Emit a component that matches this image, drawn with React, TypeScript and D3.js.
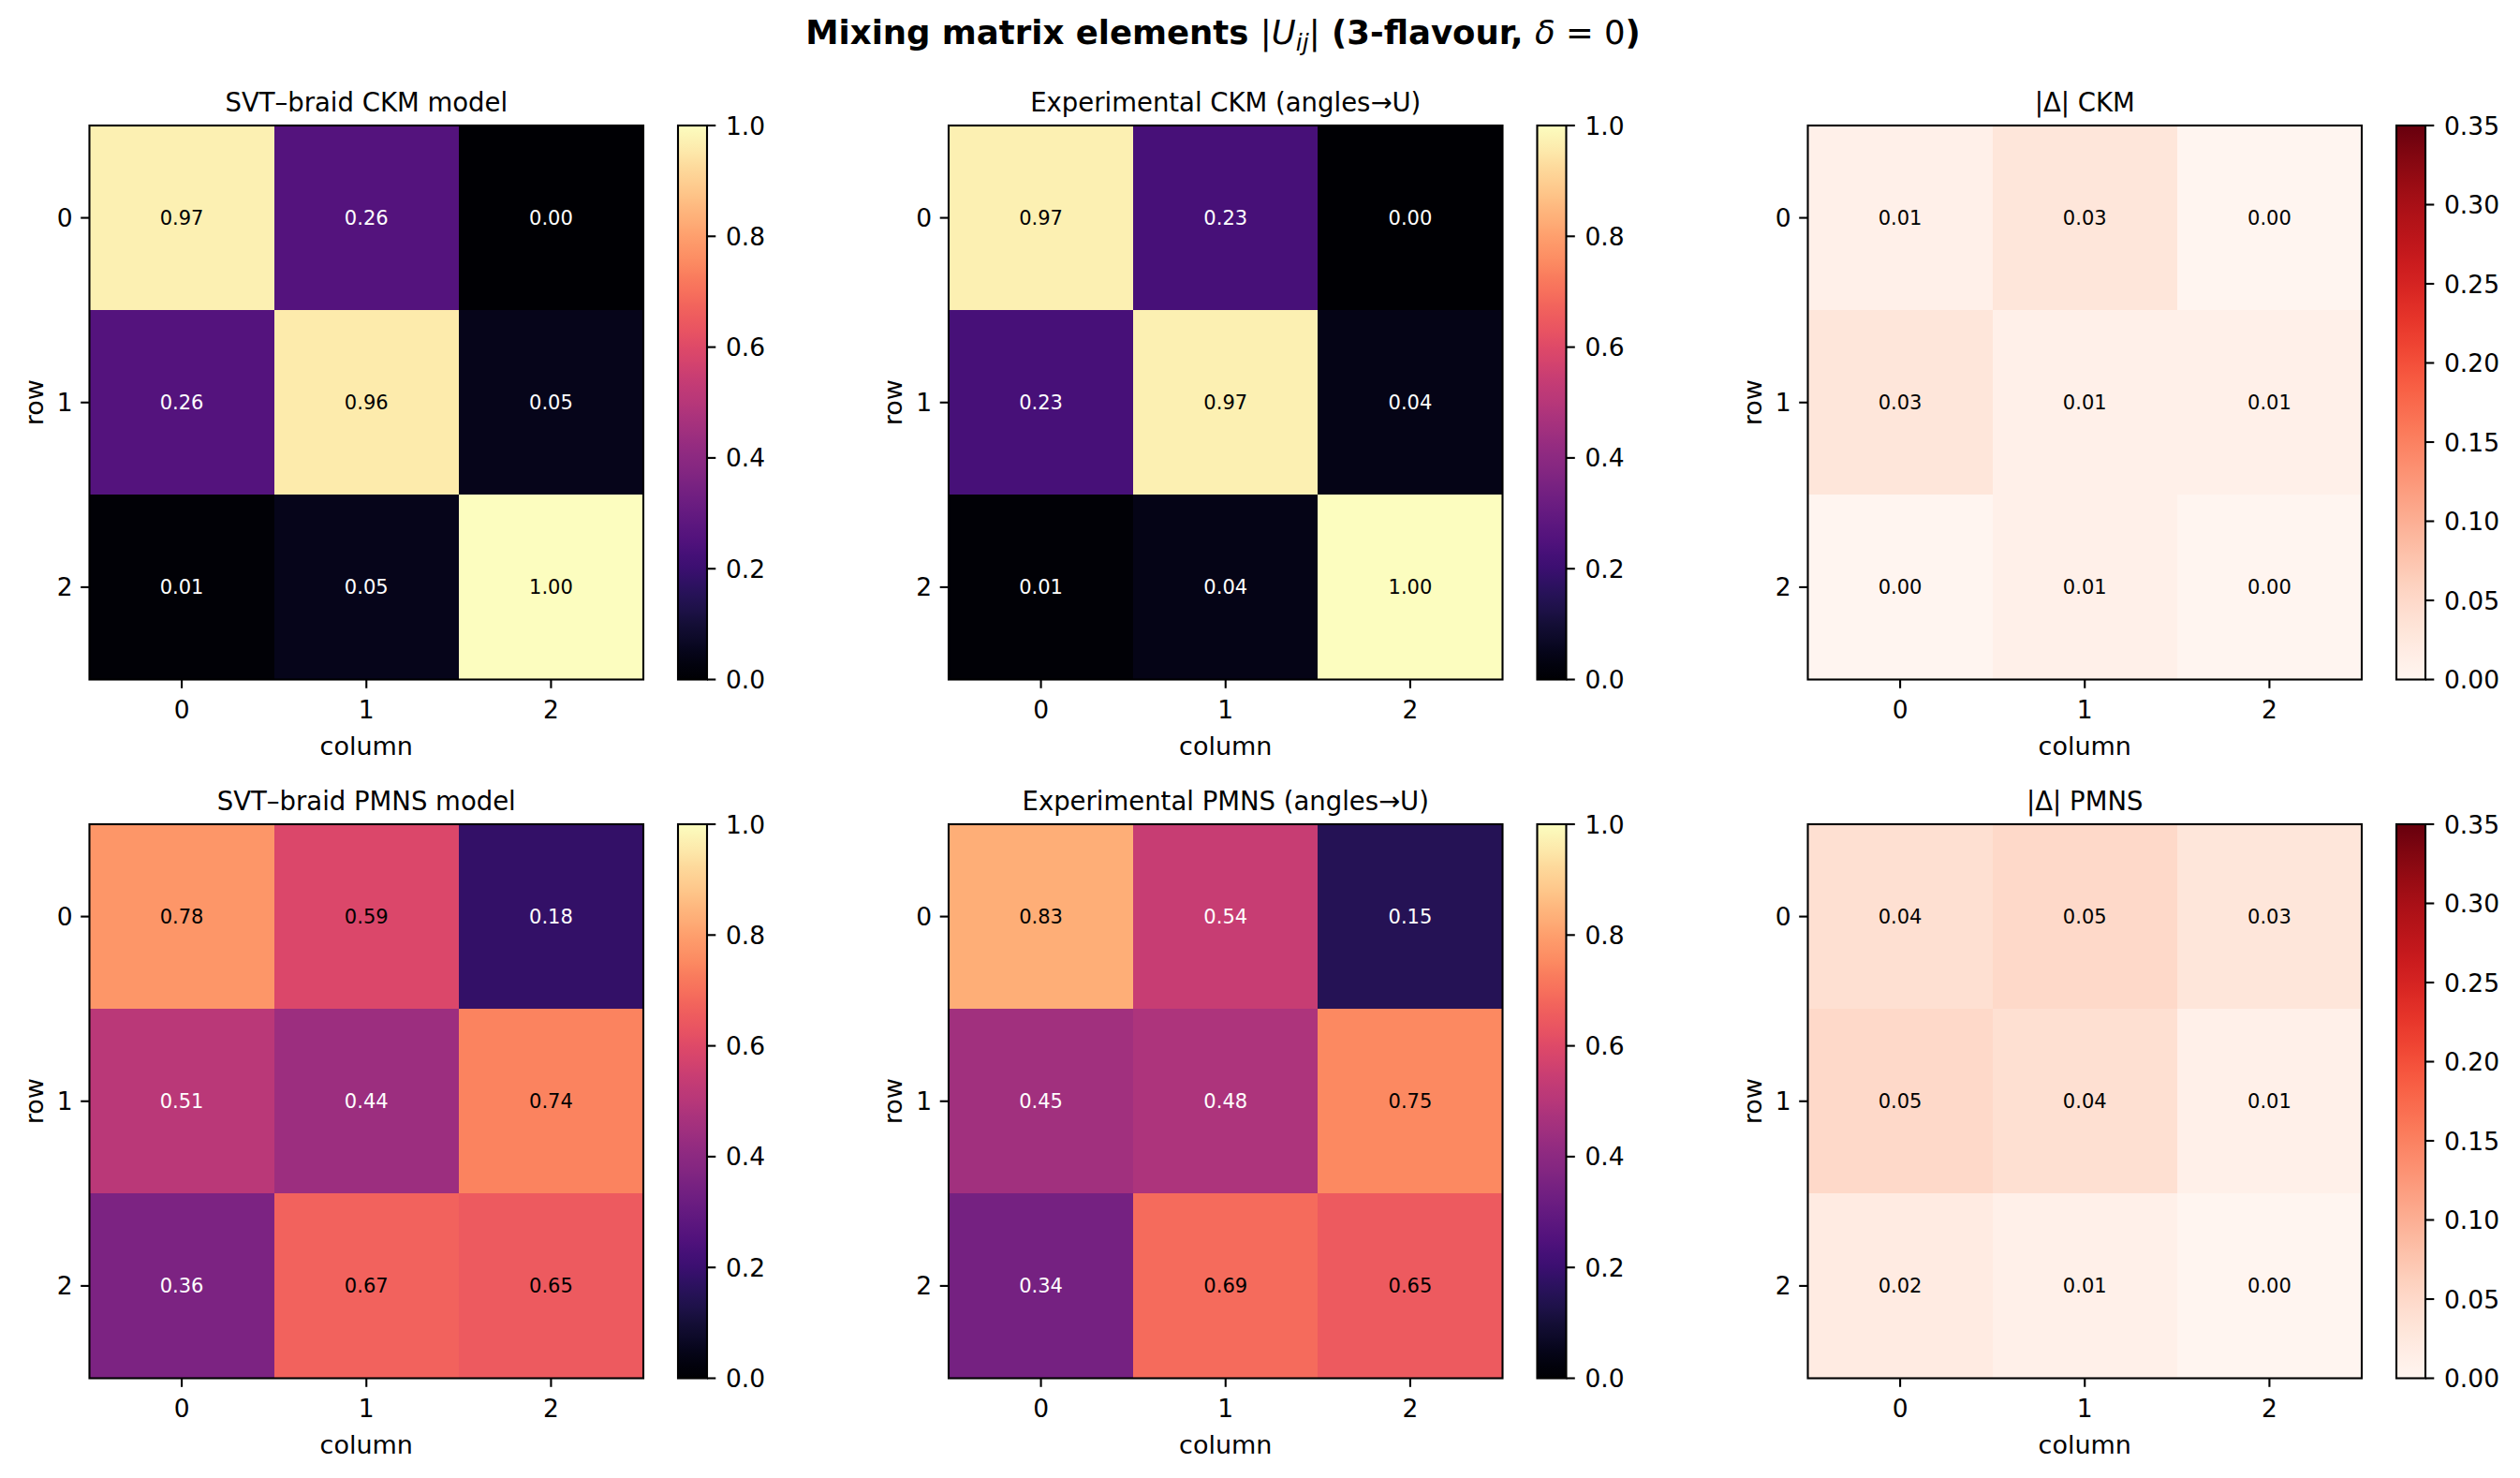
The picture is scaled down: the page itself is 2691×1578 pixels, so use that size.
import * as d3 from "d3";

// matrix values as annotated in the figure
const ckmModel = [
  [0.97, 0.26, 0.0],
  [0.26, 0.96, 0.05],
  [0.01, 0.05, 1.0],
];
const ckmExp = [
  [0.97, 0.23, 0.0],
  [0.23, 0.97, 0.04],
  [0.01, 0.04, 1.0],
];
const ckmDelta = [
  [0.01, 0.03, 0.0],
  [0.03, 0.01, 0.01],
  [0.0, 0.01, 0.0],
];
const pmnsModel = [
  [0.78, 0.59, 0.18],
  [0.51, 0.44, 0.74],
  [0.36, 0.67, 0.65],
];
const pmnsExp = [
  [0.83, 0.54, 0.15],
  [0.45, 0.48, 0.75],
  [0.34, 0.69, 0.65],
];
const pmnsDelta = [
  [0.04, 0.05, 0.03],
  [0.05, 0.04, 0.01],
  [0.02, 0.01, 0.0],
];

const indices = [0, 1, 2];
const magmaTicks = [0, 0.2, 0.4, 0.6, 0.8, 1.0];
const redsTicks = [0, 0.05, 0.1, 0.15, 0.2, 0.25, 0.3, 0.35];

const W = 2691;
const H = 1578;
const FONT = "DejaVu Sans, Liberation Sans, sans-serif";

const colLefts = [95.5, 1013, 1930.5];
const cbarLefts = [724, 1641.5, 2559];
const rowTops = [134, 880];
const size = 591.5;
const cbarW = 31;

type Panel = {
  title: string;
  data: number[][];
  kind: "magma" | "reds";
};

const panels: Panel[][] = [
  [
    { title: "SVT–braid CKM model", data: ckmModel, kind: "magma" },
    { title: "Experimental CKM (angles→U)", data: ckmExp, kind: "magma" },
    { title: "|Δ| CKM", data: ckmDelta, kind: "reds" },
  ],
  [
    { title: "SVT–braid PMNS model", data: pmnsModel, kind: "magma" },
    { title: "Experimental PMNS (angles→U)", data: pmnsExp, kind: "magma" },
    { title: "|Δ| PMNS", data: pmnsDelta, kind: "reds" },
  ],
];

function HeatPanel({
  panel,
  left,
  top,
  cbarLeft,
  id,
}: {
  panel: Panel;
  left: number;
  top: number;
  cbarLeft: number;
  id: string;
}) {
  const x = d3.scaleLinear().domain([-0.5, 2.5]).range([left, left + size]);
  const y = d3.scaleLinear().domain([-0.5, 2.5]).range([top, top + size]);

  const isMagma = panel.kind === "magma";
  const vmax = isMagma ? 1 : 0.35;
  const color = d3
    .scaleSequential(isMagma ? d3.interpolateMagma : d3.interpolateReds)
    .domain([0, vmax]);
  const ticks = isMagma ? magmaTicks : redsTicks;
  const fmt = isMagma ? d3.format(".1f") : d3.format(".2f");
  const cbarY = d3.scaleLinear().domain([0, vmax]).range([top + size, top]);
  const stops = d3.range(0, 1.0001, 1 / 40);

  return (
    <g>
      <defs>
        <linearGradient id={id} x1="0" y1="1" x2="0" y2="0">
          {stops.map((s) => (
            <stop key={s} offset={s} stopColor={color(s * vmax)} />
          ))}
        </linearGradient>
      </defs>
      <text
        x={left + size / 2}
        y={top - 15.5}
        textAnchor="middle"
        fontSize={27.5}
      >
        {panel.title}
      </text>

      {/* cells */}
      {panel.data.map((row, i) =>
        row.map((v, j) => (
          <g key={`${i}-${j}`}>
            <rect
              x={x(j - 0.5)}
              y={y(i - 0.5)}
              width={x(j + 0.5) - x(j - 0.5)}
              height={y(i + 0.5) - y(i - 0.5)}
              fill={color(v)}
              shapeRendering="crispEdges"
            />
            <text
              x={x(j)}
              y={y(i)}
              dy="0.36em"
              textAnchor="middle"
              fontSize={21}
              fill={isMagma && v < 0.55 ? "white" : "black"}
            >
              {v.toFixed(2)}
            </text>
          </g>
        ))
      )}
      <rect
        x={left}
        y={top}
        width={size}
        height={size}
        fill="none"
        stroke="black"
        strokeWidth={2.1}
      />

      {/* x ticks */}
      {indices.map((t) => (
        <g key={`x${t}`}>
          <line
            x1={x(t)}
            x2={x(t)}
            y1={top + size}
            y2={top + size + 9.3}
            stroke="black"
            strokeWidth={2.1}
          />
          <text
            x={x(t)}
            y={top + size + 41}
            textAnchor="middle"
            fontSize={26.5}
          >
            {t}
          </text>
        </g>
      ))}
      {/* y ticks */}
      {indices.map((t) => (
        <g key={`y${t}`}>
          <line
            x1={left - 9.3}
            x2={left}
            y1={y(t)}
            y2={y(t)}
            stroke="black"
            strokeWidth={2.1}
          />
          <text
            x={left - 18}
            y={y(t)}
            dy="0.36em"
            textAnchor="end"
            fontSize={26.5}
          >
            {t}
          </text>
        </g>
      ))}
      <text
        x={left + size / 2}
        y={top + size + 80}
        textAnchor="middle"
        fontSize={27}
      >
        column
      </text>
      <text
        transform={`translate(${left - 50},${top + size / 2}) rotate(-90)`}
        textAnchor="middle"
        fontSize={27}
      >
        row
      </text>

      {/* colorbar */}
      <rect
        x={cbarLeft}
        y={top}
        width={cbarW}
        height={size}
        fill={`url(#${id})`}
        stroke="black"
        strokeWidth={2.1}
      />
      {ticks.map((t) => (
        <g key={`c${t}`}>
          <line
            x1={cbarLeft + cbarW}
            x2={cbarLeft + cbarW + 9.3}
            y1={cbarY(t)}
            y2={cbarY(t)}
            stroke="black"
            strokeWidth={2.1}
          />
          <text
            x={cbarLeft + cbarW + 20}
            y={cbarY(t)}
            dy="0.36em"
            fontSize={26.5}
          >
            {fmt(t)}
          </text>
        </g>
      ))}
    </g>
  );
}

export default function App() {
  return (
    <svg
      width={W}
      height={H}
      style={{ position: "absolute", left: 0, top: 0, background: "white" }}
      fontFamily={FONT}
    >
      <rect width={W} height={H} fill="white" />
      <text x={1306} y={47} textAnchor="middle" fontSize={35.5}>
        <tspan fontWeight="bold">Mixing matrix elements </tspan>
        <tspan>|</tspan>
        <tspan fontStyle="italic">U</tspan>
        <tspan fontStyle="italic" fontSize={25} dy={7}>
          ij
        </tspan>
        <tspan dy={-7}>|</tspan>
        <tspan fontWeight="bold"> (3-flavour, </tspan>
        <tspan fontStyle="italic">δ</tspan>
        <tspan>{" = 0"}</tspan>
        <tspan fontWeight="bold">)</tspan>
      </text>
      {panels.map((row, r) =>
        row.map((p, c) => (
          <HeatPanel
            key={`${r}-${c}`}
            id={`cb-${r}-${c}`}
            panel={p}
            left={colLefts[c]}
            top={rowTops[r]}
            cbarLeft={cbarLefts[c]}
          />
        ))
      )}
    </svg>
  );
}
